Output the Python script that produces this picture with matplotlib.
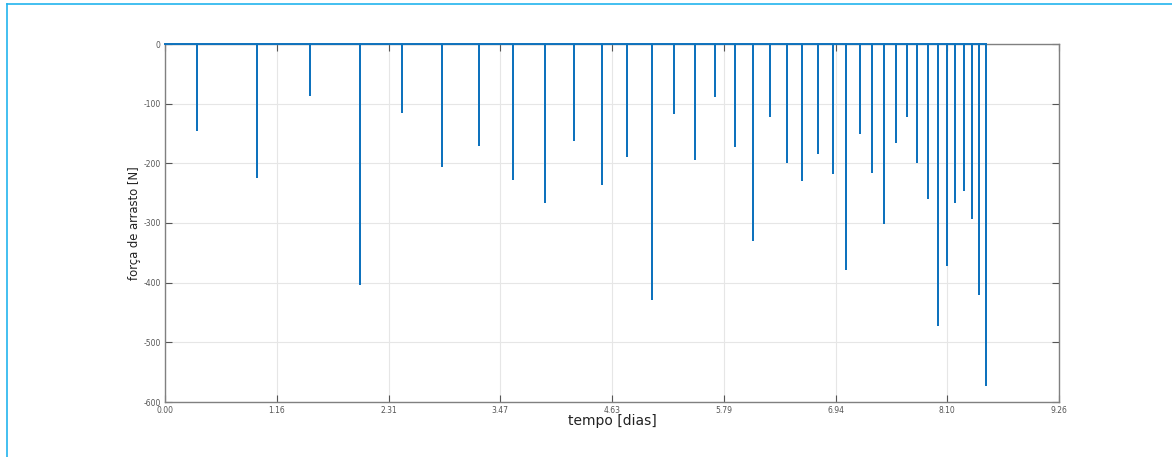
import numpy as np
import matplotlib
matplotlib.use("Agg")
import matplotlib.pyplot as plt
from matplotlib.lines import Line2D
from matplotlib import font_manager

# Spike times [days] and drag-force minima [N]
spike_times = [0.332, 0.954, 1.503, 2.021, 2.457, 2.869, 3.248, 3.604, 3.935,
               4.235, 4.521, 4.790, 5.045, 5.270, 5.491, 5.698, 5.901, 6.087,
               6.267, 6.440, 6.602, 6.765, 6.914, 7.056, 7.194, 7.326, 7.450,
               7.568, 7.685, 7.793, 7.904, 8.004, 8.101, 8.187, 8.274, 8.357,
               8.433, 8.506]
spike_forces = [-145, -225, -87, -404, -115, -206, -171, -228, -267,
                -163, -237, -189, -429, -118, -195, -89, -173, -330,
                -122, -199, -229, -184, -218, -379, -150, -217, -301,
                -166, -122, -199, -259, -472, -372, -267, -246, -294,
                -421, -573]
t_start = 0.0
x_max = 800000 / 86400
xtick_labels = ["0.00", "1.16", "2.31", "3.47", "4.63", "5.79", "6.94", "8.10", "9.26"]
ytick_values = [-600, -500, -400, -300, -200, -100, 0]
ytick_labels = ["-600", "-500", "-400", "-300", "-200", "-100", "0"]

# Build time series: zero baseline with instantaneous drops
ts = np.asarray(spike_times)
fs = np.asarray(spike_forces, dtype=float)
x = np.concatenate([[t_start], np.repeat(ts, 3)])
y = np.concatenate([[0.0], np.column_stack([np.zeros_like(fs), fs, np.zeros_like(fs)]).ravel()])

plt.rcParams['axes.unicode_minus'] = False
fig = plt.figure(figsize=(11.72, 4.57), dpi=100)
ax = fig.add_axes([165/1172, 1-402/457, (1059-165)/1172, (402-44)/457])

ax.plot(x, y, color='#0e72bd', lw=1.4, solid_joinstyle='miter', zorder=3, clip_on=False)

ax.set_xlim(0, x_max)
ax.set_ylim(-600, 0)
ax.set_xticks(np.linspace(0, x_max, 9))
ax.set_xticklabels(xtick_labels)
ax.set_yticks(ytick_values)
ax.set_yticklabels(ytick_labels)
ax.grid(True, color='#e6e6e6', lw=0.8)
ax.set_axisbelow(True)
ax.tick_params(direction='in', length=5, width=0.8, color='#555555',
               labelsize=5.5, labelcolor='#555555', top=True, right=True, pad=3)
for s in ax.spines.values():
    s.set_color('#808080')
    s.set_linewidth(1.0)

ax.set_xlabel('tempo [dias]', fontsize=10, color='#222222', labelpad=-1)

names = {f.name for f in font_manager.fontManager.ttflist}
if 'Liberation Sans Narrow' in names:
    yl_kw = dict(family='Liberation Sans Narrow', fontsize=11)
else:
    yl_kw = dict(family='DejaVu Sans', fontstretch='condensed', fontsize=9.3)
ax.set_ylabel('força de arrasto [N]', color='#222222', labelpad=1.5, **yl_kw)

# light-blue frame (top and left edge)
border = '#22b4ee'
fig.add_artist(Line2D([6.5/1172, 1], [1-3.5/457, 1-3.5/457], color=border, lw=1.2, transform=fig.transFigure))
fig.add_artist(Line2D([6.5/1172, 6.5/1172], [0, 1-3.5/457], color=border, lw=1.2, transform=fig.transFigure))

fig.savefig('out.png', dpi=100)
